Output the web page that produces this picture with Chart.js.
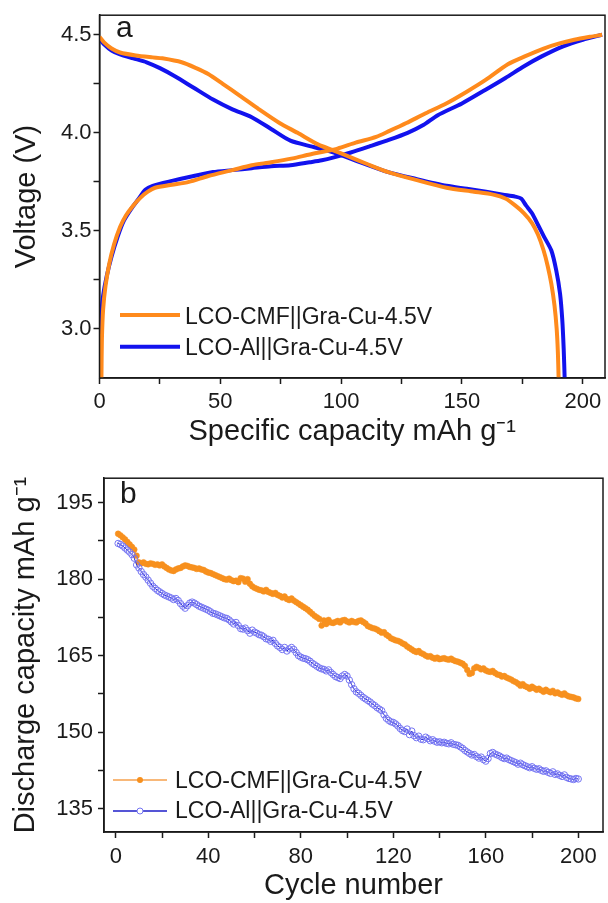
<!DOCTYPE html>
<html>
<head>
<meta charset="utf-8">
<script src="https://cdn.jsdelivr.net/npm/chart.js@4.4.0/dist/chart.umd.min.js"></script>
<style>
  html, body { margin: 0; padding: 0; background: #fff; }
  #chartA { position: absolute; left: 0; top: 0; }
  #chartB { position: absolute; left: 0; top: 460px; }
</style>
</head>
<body>
<canvas id="chartA" width="608" height="460"></canvas>
<canvas id="chartB" width="608" height="443"></canvas>
<script>
// ---- data ----
const seriesNames = ['LCO-CMF||Gra-Cu-4.5V', 'LCO-Al||Gra-Cu-4.5V'];

// panel a: charge / discharge curves (capacity mAh/g, voltage V)
const cmfChargeCap = [0.8, 1.0, 1.5, 2.5, 4, 6, 8.5, 11, 14, 17, 20, 23, 30, 37, 45, 55, 63, 71, 80, 87, 93, 98.5, 106, 114.5, 120, 127, 135, 143.5, 152, 159.8, 169, 176, 183.8, 190, 196.5, 203, 208];
const cmfChargeV   = [2.75, 2.95, 3.1, 3.22, 3.33, 3.43, 3.52, 3.58, 3.63, 3.67, 3.7, 3.72, 3.735, 3.75, 3.78, 3.81, 3.835, 3.85, 3.87, 3.89, 3.905, 3.92, 3.95, 3.98, 4.01, 4.05, 4.1, 4.15, 4.21, 4.27, 4.35, 4.39, 4.43, 4.455, 4.475, 4.49, 4.5];
const alChargeCap  = [0.3, 0.5, 0.8, 1.5, 3, 5, 7.5, 10, 13, 16, 19, 22, 30, 39, 47, 55, 63, 71, 79, 87, 92, 97, 104, 111.5, 120, 127.5, 134, 140, 150, 159.8, 168, 175.7, 183, 191.6, 200, 208];
const alChargeV    = [2.75, 2.95, 3.08, 3.17, 3.27, 3.37, 3.47, 3.55, 3.61, 3.66, 3.71, 3.73, 3.755, 3.78, 3.8, 3.81, 3.82, 3.83, 3.835, 3.85, 3.86, 3.875, 3.9, 3.93, 3.965, 4.0, 4.04, 4.09, 4.15, 4.22, 4.28, 4.34, 4.39, 4.44, 4.475, 4.5];
const cmfDischCap  = [0, 2, 5, 8.5, 15, 22, 26, 34, 40, 45, 51, 58, 66, 74.5, 82, 90.6, 97, 103, 111, 119.5, 131, 143.6, 155, 163, 168, 172, 175.7, 179, 181.5, 183.8, 185.5, 187, 188.3, 189.2, 189.7, 190];
const cmfDischV    = [4.49, 4.46, 4.43, 4.41, 4.395, 4.385, 4.38, 4.36, 4.33, 4.3, 4.25, 4.19, 4.12, 4.05, 4.0, 3.94, 3.91, 3.88, 3.84, 3.8, 3.76, 3.72, 3.7, 3.685, 3.665, 3.63, 3.59, 3.54, 3.48, 3.4, 3.32, 3.23, 3.12, 3.0, 2.88, 2.75];
const alDischCap   = [0, 2, 5, 8.5, 14, 19.5, 25, 31, 39, 47, 55, 63, 71, 79, 88, 97, 108, 119.5, 131, 143.6, 152, 160, 167, 172, 174.5, 176.5, 179, 181.5, 184, 187, 189, 190.6, 191.5, 192.1, 192.5];
const alDischV     = [4.48, 4.45, 4.42, 4.4, 4.38, 4.36, 4.33, 4.29, 4.23, 4.17, 4.12, 4.08, 4.02, 3.96, 3.93, 3.9, 3.85, 3.8, 3.765, 3.73, 3.715, 3.7, 3.685, 3.675, 3.665, 3.63, 3.59, 3.53, 3.47, 3.4, 3.3, 3.18, 3.05, 2.9, 2.75];

// panel b: discharge capacity per cycle (cycles 1..200)
const cycles = Array.from({ length: 200 }, (_, i) => i + 1);
const cmfCapacity = [
  188.9, 188.6, 188.2, 187.8, 187.3, 186.8, 186.3, 185.8, 184.6, 183.3,
  183.1, 183.3, 183.0, 182.9, 183.1, 183.0, 182.8, 182.9, 182.7, 182.9,
  182.5, 182.2, 181.9, 181.7, 181.6, 181.9, 182.1, 182.2, 182.5, 182.7,
  182.6, 182.4, 182.3, 182.2, 182.0, 182.1, 181.9, 181.8, 181.5, 181.3,
  181.2, 181.0, 180.8, 180.6, 180.4, 180.2, 180.0, 179.9, 180.1, 179.8,
  179.6, 179.7, 179.4, 180.2, 180.1, 179.5, 180.0, 179.1, 178.6, 178.3,
  178.1, 177.9, 177.8, 177.6, 177.9, 177.5, 177.3, 177.1, 177.3, 176.9,
  176.7, 176.4, 176.6, 176.1, 175.9, 176.2, 175.8, 175.5, 175.2, 174.9,
  174.6, 174.3, 174.0, 173.6, 173.2, 172.8, 172.5, 172.2, 170.9, 171.9,
  171.2, 172.0, 171.5, 171.4, 171.6, 171.8, 171.5, 171.9, 172.0, 171.7,
  171.5, 171.8, 171.6, 171.5, 171.8, 171.9, 171.6, 171.3, 170.8, 170.6,
  170.4, 170.3, 170.1, 169.8, 169.5, 169.6, 169.1, 168.8, 168.4, 168.2,
  168.0, 167.9, 167.7, 167.4, 167.2, 166.8, 166.5, 166.2, 165.9, 165.7,
  165.9, 165.5, 165.3, 165.0, 164.8, 164.9, 164.6, 164.4, 164.6, 164.3,
  164.4, 164.5, 164.3, 164.2, 164.4, 164.1, 163.9, 163.8, 163.6, 163.4,
  163.0, 162.2, 161.4, 161.6, 162.5, 162.8, 162.6, 162.3, 162.5, 162.1,
  161.9, 161.8, 162.0, 161.6, 161.3, 161.2, 160.9, 161.0, 160.7, 160.5,
  160.3, 160.0, 159.8, 159.5, 159.1, 159.4, 159.0, 158.8, 158.5, 158.9,
  158.6, 158.3, 158.5, 158.2, 157.9, 158.3, 158.0, 157.8, 158.1, 157.6,
  157.8, 157.5, 157.3, 157.6, 157.2, 157.0, 156.9, 156.8, 156.6, 156.5
];
const alCapacity = [
  187.0, 186.8, 186.5, 186.1, 185.7, 185.3, 184.8, 184.1, 182.8, 182.2,
  181.5, 180.9, 180.4, 179.8, 179.2, 178.6, 178.2, 177.8, 177.5, 177.2,
  176.9, 176.7, 176.5, 176.3, 176.0, 176.2, 175.8, 175.2, 174.7, 174.3,
  174.8, 175.3, 175.5, 175.3, 175.0, 174.7, 174.5, 174.3, 174.1, 173.9,
  173.6, 173.3, 173.2, 173.0, 172.8, 172.6, 172.4, 172.3, 172.0, 171.6,
  171.2, 171.5, 170.9, 170.3, 170.2, 170.4, 169.9, 169.4, 170.0, 169.6,
  169.4, 169.1, 169.0, 168.7, 168.3, 168.2, 167.8, 168.0, 167.4, 166.9,
  166.6, 166.2, 166.6, 165.9, 166.3, 166.6, 166.2, 165.6, 165.0, 164.7,
  164.5, 164.4, 164.2, 163.9, 163.5, 163.2, 162.9, 162.6, 162.4, 162.3,
  162.0, 162.2, 161.7, 161.3, 160.9, 160.7, 160.5, 161.0, 161.3, 161.0,
  160.2, 159.3, 158.5, 157.9, 157.6, 157.2, 156.8, 156.5, 156.2, 155.9,
  155.5, 155.2, 154.8, 154.5, 154.2, 153.4, 152.7, 152.3, 152.0, 151.9,
  151.6, 151.2, 150.7, 150.3, 150.1, 150.6, 149.5, 150.2, 149.3, 148.9,
  149.2, 148.6, 148.5, 149.0, 148.7, 148.3, 148.5, 148.2, 148.0, 148.1,
  147.9, 148.0, 147.8, 147.7, 147.9, 147.6, 147.5, 147.4, 147.1, 146.8,
  146.4, 146.1, 145.8, 145.5, 145.6, 145.2, 144.9, 145.1, 144.6, 144.3,
  144.8, 145.8, 146.0, 145.7, 145.5, 145.3, 145.0, 144.8, 144.9, 144.6,
  144.4, 144.2, 144.0, 143.7, 143.9, 143.6, 143.4, 143.2, 143.0, 143.2,
  142.9, 142.7, 142.8, 142.5, 142.3, 142.4, 142.1, 141.9, 142.2, 141.7,
  141.8, 141.5, 141.3, 141.6, 141.1, 140.9, 140.8, 140.7, 140.9, 140.8
];

// ---- styling ----
const FONT = '"Liberation Sans", Arial, sans-serif';
const INK = '#1a1a1a';
const ORANGE = '#ff8a1c';
const BLUE = '#1212ee';
Chart.defaults.font.family = FONT;
Chart.defaults.color = INK;

function pairs(xs, ys) {
  return xs.map((x, i) => ({ x: x, y: ys[i] }));
}

// frame, panel letter and legend drawn on top of the chart
function decor(id, letter, lx, ly, legend) {
  return {
    id: id,
    afterDraw(chart) {
      const ctx = chart.ctx;
      const a = chart.chartArea;
      ctx.save();
      ctx.strokeStyle = INK;
      ctx.lineWidth = 1.5;
      ctx.strokeRect(a.left, a.top, a.right - a.left, a.bottom - a.top);
      ctx.fillStyle = INK;
      ctx.font = '30px ' + FONT;
      ctx.textBaseline = 'alphabetic';
      ctx.fillText(letter, lx, ly);
      ctx.font = '23px ' + FONT;
      legend.items.forEach(it => {
        ctx.strokeStyle = it.line;
        ctx.lineWidth = it.width;
        ctx.beginPath();
        ctx.moveTo(legend.x0, it.y);
        ctx.lineTo(legend.x1, it.y);
        ctx.stroke();
        if (it.marker) {
          ctx.beginPath();
          ctx.arc((legend.x0 + legend.x1) / 2, it.y, 3, 0, Math.PI * 2);
          if (it.marker === 'fill') {
            ctx.fillStyle = it.markerColor;
            ctx.fill();
          } else {
            ctx.fillStyle = '#fff';
            ctx.fill();
            ctx.lineWidth = 1;
            ctx.strokeStyle = it.markerColor;
            ctx.stroke();
          }
        }
        ctx.fillStyle = INK;
        ctx.fillText(it.label, legend.textX, it.base);
      });
      ctx.restore();
    }
  };
}

function axisGrid(hideValue) {
  return {
    drawOnChartArea: false,
    drawTicks: true,
    tickLength: 6,
    tickWidth: 1.5,
    tickColor: c => (hideValue !== undefined && c.tick && Math.abs(c.tick.value - hideValue) < 1e-6) ? 'rgba(0,0,0,0)' : INK
  };
}

// ---- panel a ----
new Chart(document.getElementById('chartA'), {
  type: 'line',
  data: {
    datasets: [
      { data: pairs(cmfChargeCap, cmfChargeV), borderColor: ORANGE },
      { data: pairs(cmfDischCap, cmfDischV), borderColor: ORANGE },
      { data: pairs(alChargeCap, alChargeV), borderColor: BLUE },
      { data: pairs(alDischCap, alDischV), borderColor: BLUE }
    ].map(d => Object.assign(d, { borderWidth: 4, pointRadius: 0, tension: 0.25, fill: false }))
  },
  options: {
    responsive: false,
    animation: false,
    layout: { padding: { top: 15, right: 3, left: 0, bottom: 0 } },
    plugins: { legend: { display: false }, tooltip: { enabled: false } },
    scales: {
      x: {
        type: 'linear', min: 0, max: 209.2,
        border: { color: INK, width: 1.5 },
        grid: axisGrid(),
        ticks: { stepSize: 25, includeBounds: false, maxRotation: 0, autoSkip: false, padding: 5,
                 font: { size: 22 }, callback: v => (v % 50 === 0 ? String(v) : '') },
        title: { display: true, text: 'Specific capacity mAh g\u207B\u00B9', font: { size: 29 },
                 padding: { top: 0, bottom: 11 } },
        afterFit: s => { s.height = 82; }
      },
      y: {
        min: 2.75, max: 4.6,
        border: { color: INK, width: 1.5 },
        grid: axisGrid(2.75),
        ticks: { stepSize: 0.25, includeBounds: false, padding: 2, font: { size: 22 },
                 callback: v => (v >= 3 && Math.abs(v * 2 - Math.round(v * 2)) < 1e-6 ? v.toFixed(1) : '') },
        title: { display: true, text: 'Voltage (V)', font: { size: 29 }, padding: { top: 10, bottom: 0 } },
        afterFit: s => { s.width = 99.5; }
      }
    }
  },
  plugins: [decor('decorA', 'a', 116, 37, {
    x0: 120, x1: 180, textX: 185,
    items: [
      { label: seriesNames[0], line: ORANGE, width: 4, y: 315, base: 323.5 },
      { label: seriesNames[1], line: BLUE, width: 4, y: 346.7, base: 355 }
    ]
  })]
});

// ---- panel b ----
const ORANGE_B = '#f7901e';
const ORANGE_LINE_B = '#f6a14c';
const BLUE_LINE_B = '#1c1cc8';
const BLUE_MARK_B = '#7474f2';

new Chart(document.getElementById('chartB'), {
  type: 'line',
  data: {
    datasets: [
      { data: pairs(cycles, alCapacity), borderColor: BLUE_LINE_B, borderWidth: 1,
        pointRadius: 3.2, pointBorderWidth: 1, pointBorderColor: BLUE_MARK_B,
        pointBackgroundColor: 'rgba(255,255,255,0)', tension: 0, fill: false },
      { data: pairs(cycles, cmfCapacity), borderColor: ORANGE_LINE_B, borderWidth: 1,
        pointRadius: 2.9, pointBorderWidth: 0.5, pointBorderColor: ORANGE_B,
        pointBackgroundColor: ORANGE_B, tension: 0, fill: false }
    ]
  },
  options: {
    responsive: false,
    animation: false,
    layout: { padding: { top: 13, right: 4, left: 0, bottom: 0 } },
    plugins: { legend: { display: false }, tooltip: { enabled: false } },
    scales: {
      x: {
        type: 'linear', min: -5.1, max: 210.7,
        border: { color: INK, width: 1.5 },
        grid: axisGrid(),
        ticks: { stepSize: 20, includeBounds: false, maxRotation: 0, autoSkip: false, padding: 6,
                 font: { size: 22 }, callback: v => (v % 40 === 0 ? String(v) : '') },
        title: { display: true, text: 'Cycle number', font: { size: 29 }, padding: { top: 0, bottom: 0 } },
        afterFit: s => { s.height = 71; }
      },
      y: {
        min: 130.4, max: 199.8,
        border: { color: INK, width: 1.5 },
        grid: axisGrid(),
        ticks: { stepSize: 7.5, includeBounds: false, padding: 5, font: { size: 22 },
                 callback: v => (v % 15 === 0 ? String(v) : '') },
        title: { display: true, text: 'Discharge capacity mAh g\u207B\u00B9', font: { size: 29 },
                 padding: { top: 9, bottom: 0 } },
        afterFit: s => { s.width = 104; }
      }
    }
  },
  plugins: [decor('decorB', 'b', 120, 43, {
    x0: 113, x1: 167, textX: 175,
    items: [
      { label: seriesNames[0], line: ORANGE_LINE_B, width: 1.5, marker: 'fill', markerColor: ORANGE_B, y: 320, base: 328.3 },
      { label: seriesNames[1], line: BLUE_LINE_B, width: 1.5, marker: 'open', markerColor: BLUE_MARK_B, y: 351, base: 357.5 }
    ]
  })]
});
</script>
</body>
</html>
